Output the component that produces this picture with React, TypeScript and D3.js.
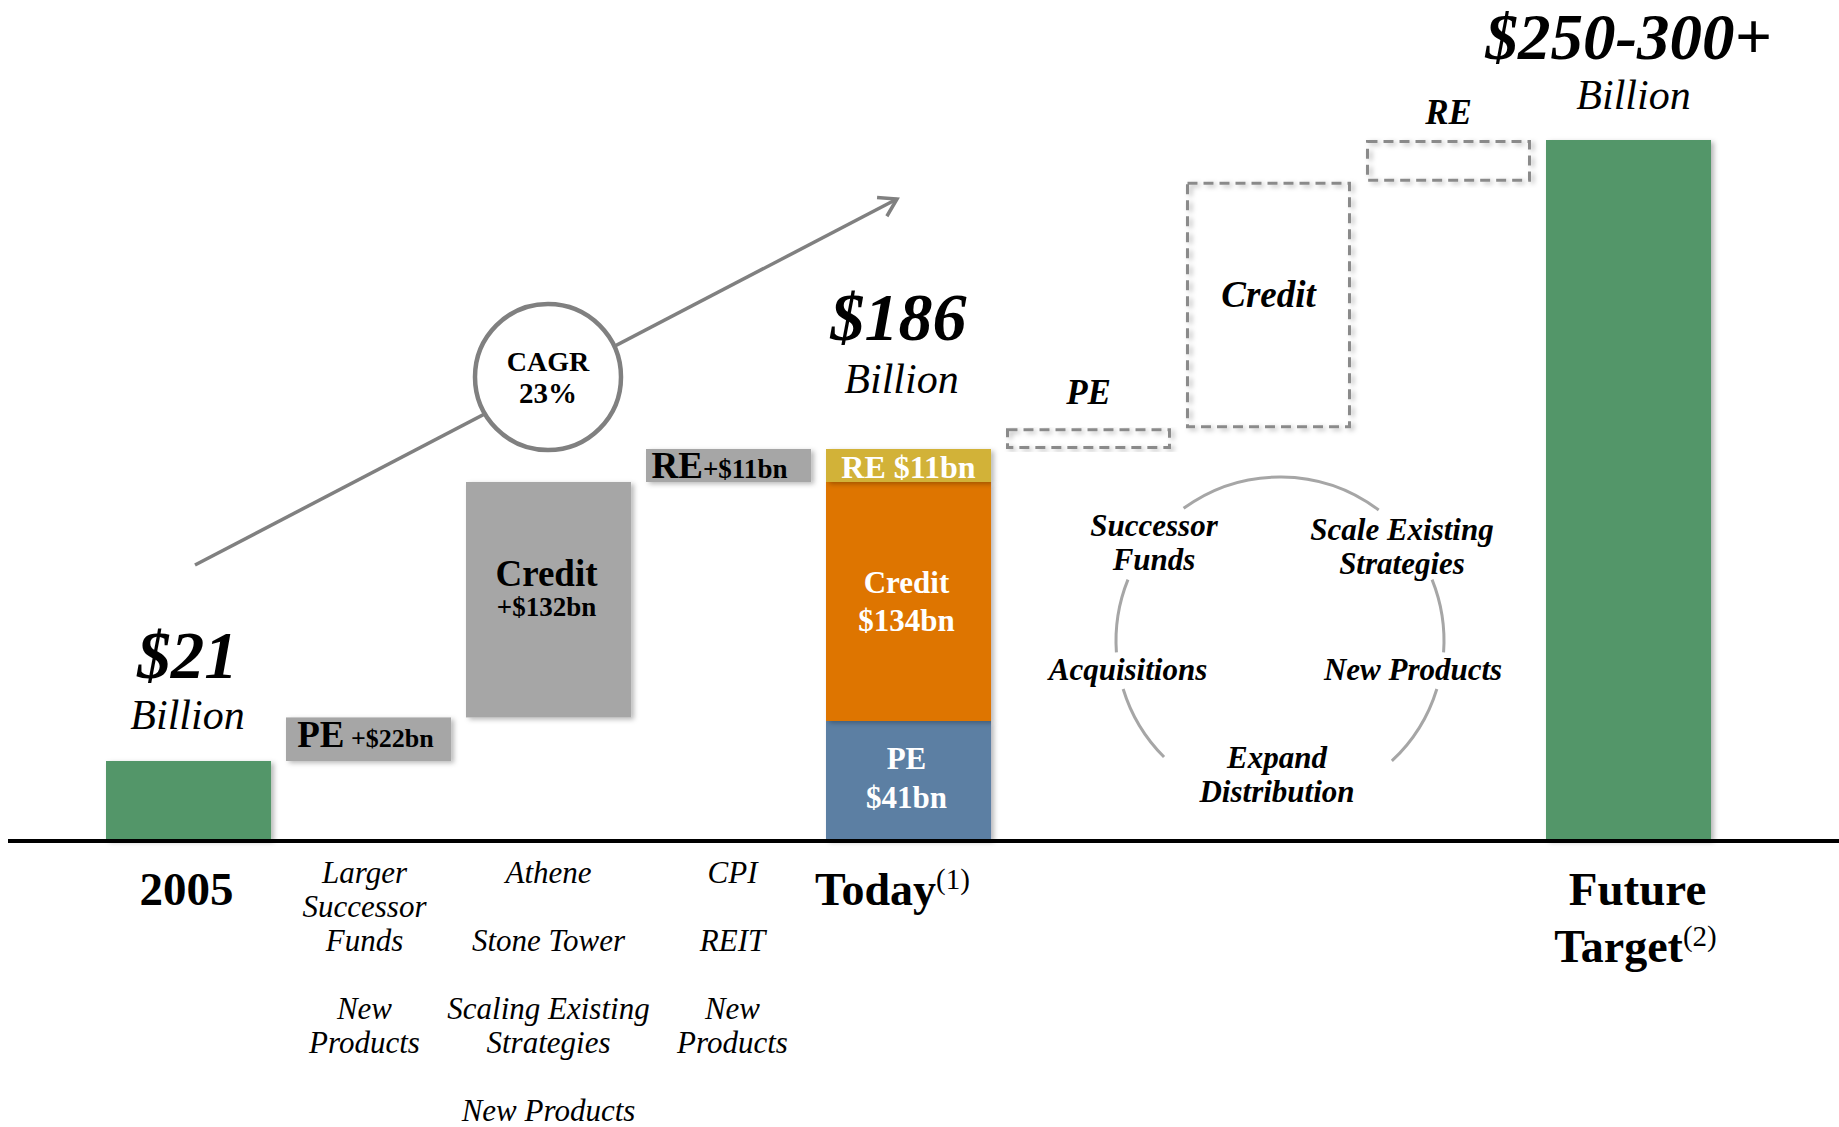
import React from "react";
import * as d3 from "d3";

// ---------- data ----------
const steps = ["2005", "PE", "Credit", "RE", "Today", "PE future", "Credit future", "RE future", "Future Target"];
const startAum = 21; // $bn in 2005
const historicIncrements = [
  { name: "PE", value: 22 },
  { name: "Credit", value: 132 },
  { name: "RE", value: 11 },
];
const todaySegments = [
  { name: "PE", value: 41 },
  { name: "Credit", value: 134 },
  { name: "RE", value: 11 },
];
const todayTotal = 186;
// future increments are not labelled in the source: estimated from box sizes
const futureIncrements = [
  { name: "PE", value: 6 },
  { name: "Credit", value: 71 },
  { name: "RE", value: 12 },
];
const futureTarget = 275; // midpoint of $250-300+
const cagrLabel = ["CAGR", "23%"];
const driverColumns = [
  { step: "PE", lines: ["Larger", "Successor", "Funds", "", "New", "Products"] },
  { step: "Credit", lines: ["Athene", "", "Stone Tower", "", "Scaling Existing", "Strategies", "", "New Products"] },
  { step: "RE", lines: ["CPI", "", "REIT", "", "New", "Products"] },
];
const cycleLabels = [
  { lines: ["Successor", "Funds"] },
  { lines: ["Scale Existing", "Strategies"] },
  { lines: ["Acquisitions"] },
  { lines: ["New Products"] },
  { lines: ["Expand", "Distribution"] },
];

// ---------- styles / layout ----------
const W = 1839;
const H = 1127;
const FONT = "'Liberation Serif', 'Times New Roman', Times, serif";
const GREEN = "#529669";
const GRAY = "#A6A6A6";
const segColors: Record<string, string> = { PE: "#5B7FA3", Credit: "#DE7400", RE: "#D2B237" };
// the source chart is not drawn to scale: a piecewise-linear scale reproduces its segment heights
const yRangeBreaks = [840, 761, 721, 482, 449, 140];
const cycleLabelPos = [
  { x: 1154, y: 536 },
  { x: 1402, y: 540 },
  { x: 1128, y: 680 },
  { x: 1413, y: 680 },
  { x: 1277, y: 768 },
];
const driverOffsets = [-4, 0, 4];

export default function App() {
  const x = d3.scaleBand<string>().domain(steps).range([106, 1711]).paddingInner(0.0833).paddingOuter(0);
  const bw = x.bandwidth();
  const cx = (s: string) => (x(s) as number) + bw / 2;

  const yDomain = [
    0,
    startAum,
    todaySegments[0].value,
    todaySegments[0].value + todaySegments[1].value,
    todayTotal,
    futureTarget,
  ];
  const y = d3.scaleLinear().domain(yDomain).range(yRangeBreaks);

  // historic waterfall
  let acc = startAum;
  const histBoxes = historicIncrements.map((d) => {
    const b = { ...d, y0: acc, y1: acc + d.value };
    acc += d.value;
    return b;
  });
  // today stack
  let sacc = 0;
  const stack = todaySegments.map((d) => {
    const b = { ...d, y0: sacc, y1: sacc + d.value };
    sacc += d.value;
    return b;
  });
  // future waterfall
  let facc = todayTotal;
  const futBoxes = futureIncrements.map((d) => {
    const b = { ...d, y0: facc, y1: facc + d.value };
    facc += d.value;
    return b;
  });

  // cycle arcs
  const ccx = 1280, ccy = 641, cr = 164;
  const arcSegs = [[-36, 37], [68, 94], [107, 137], [-135, -107], [-94, -68]];
  const arcPaths = arcSegs.map(([a0, a1]) => {
    const p = d3.path();
    p.arc(ccx, ccy, cr, ((a0 - 90) * Math.PI) / 180, ((a1 - 90) * Math.PI) / 180);
    return p.toString();
  });

  // growth arrow
  const ax0 = 195, ay0 = 565, ax1 = 897, ay1 = 199;
  const ang = Math.atan2(ay1 - ay0, ax1 - ax0);
  const barb = 20;
  const spread = (32 * Math.PI) / 180;
  const headPath = `M${ax1 - barb * Math.cos(ang - spread)},${ay1 - barb * Math.sin(ang - spread)} L${ax1},${ay1} L${ax1 - barb * Math.cos(ang + spread)},${ay1 - barb * Math.sin(ang + spread)}`;
  const circX = 548, circY = 377;

  return (
    <svg
      width={W}
      height={H}
      viewBox={`0 0 ${W} ${H}`}
      style={{ position: "absolute", left: 0, top: 0, display: "block", background: "#fff" }}
      fontFamily={FONT}
    >
      <defs>
        <filter id="sh" x="-10%" y="-10%" width="130%" height="130%">
          <feDropShadow dx="3" dy="2" stdDeviation="2.5" floodColor="#000" floodOpacity="0.28" />
        </filter>
      </defs>

      {/* growth arrow and CAGR bubble */}
      <line x1={ax0} y1={ay0} x2={ax1} y2={ay1} stroke="#808080" strokeWidth={3.5} />
      <path d={headPath} fill="none" stroke="#808080" strokeWidth={3.5} strokeLinejoin="miter" />
      <circle cx={circX} cy={circY} r={73} fill="#fff" stroke="#808080" strokeWidth={4.5} />
      <text x={circX} y={371} textAnchor="middle" fontWeight="bold" fontSize={28}>{cagrLabel[0]}</text>
      <text x={circX} y={403} textAnchor="middle" fontWeight="bold" fontSize={29}>{cagrLabel[1]}</text>

      {/* 2005 bar */}
      <rect x={x("2005")} y={y(startAum)} width={bw} height={y(0) - y(startAum)} fill={GREEN} filter="url(#sh)" />
      <text x={cx("2005") - 1} y={678} textAnchor="middle" fontWeight="bold" fontStyle="italic" fontSize={67}>${startAum}</text>
      <text x={cx("2005") - 1} y={729} textAnchor="middle" fontStyle="italic" fontSize={42}>Billion</text>

      {/* historic increments */}
      {histBoxes.map((b) => (
        <rect key={b.name} x={x(b.name)} y={y(b.y1)} width={bw} height={y(b.y0) - y(b.y1)} fill={GRAY} filter="url(#sh)" />
      ))}
      <text x={cx("PE") - 3} y={747} textAnchor="middle" fontWeight="bold">
        <tspan fontSize={37}>PE</tspan>
        <tspan fontSize={26}> +${historicIncrements[0].value}bn</tspan>
      </text>
      <text x={cx("Credit") - 2} y={586} textAnchor="middle" fontWeight="bold" fontSize={37}>Credit</text>
      <text x={cx("Credit") - 2} y={616} textAnchor="middle" fontWeight="bold" fontSize={27}>+${historicIncrements[1].value}bn</text>
      <text x={cx("RE") - 9} y={478} textAnchor="middle" fontWeight="bold">
        <tspan fontSize={37}>RE</tspan>
        <tspan fontSize={27}>+${historicIncrements[2].value}bn</tspan>
      </text>

      {/* today stack */}
      {stack.map((b) => (
        <rect key={b.name} x={x("Today")} y={y(b.y1)} width={bw} height={y(b.y0) - y(b.y1)} fill={segColors[b.name]} filter="url(#sh)" />
      ))}
      <text x={cx("Today")} y={(y(stack[2].y0) + y(stack[2].y1)) / 2 + 12} textAnchor="middle" fontWeight="bold" fontSize={32} fill="#fff">
        RE ${todaySegments[2].value}bn
      </text>
      <text x={cx("Today") - 2} y={(y(stack[1].y0) + y(stack[1].y1)) / 2 - 9} textAnchor="middle" fontWeight="bold" fontSize={31} fill="#fff">Credit</text>
      <text x={cx("Today") - 2} y={(y(stack[1].y0) + y(stack[1].y1)) / 2 + 29} textAnchor="middle" fontWeight="bold" fontSize={31} fill="#fff">${todaySegments[1].value}bn</text>
      <text x={cx("Today") - 2} y={(y(stack[0].y0) + y(stack[0].y1)) / 2 - 12} textAnchor="middle" fontWeight="bold" fontSize={31} fill="#fff">PE</text>
      <text x={cx("Today") - 2} y={(y(stack[0].y0) + y(stack[0].y1)) / 2 + 27} textAnchor="middle" fontWeight="bold" fontSize={31} fill="#fff">${todaySegments[0].value}bn</text>
      <text x={cx("Today") - 10} y={340} textAnchor="middle" fontWeight="bold" fontStyle="italic" fontSize={68}>${todayTotal}</text>
      <text x={cx("Today") - 7} y={393} textAnchor="middle" fontStyle="italic" fontSize={42}>Billion</text>

      {/* future dashed increments */}
      {futBoxes.map((b) => (
        <rect
          key={b.name}
          x={(x(b.name + " future") as number) + 1.5}
          y={y(b.y1) + 1.5}
          width={bw - 3}
          height={y(b.y0) - y(b.y1) - 3}
          fill="none"
          stroke="#8A8A8A"
          strokeWidth={3}
          strokeDasharray="10 6"
          filter="url(#sh)"
        />
      ))}
      <text x={cx("PE future")} y={y(futBoxes[0].y1) - 24} textAnchor="middle" fontWeight="bold" fontStyle="italic" fontSize={35}>PE</text>
      <text x={cx("Credit future")} y={307} textAnchor="middle" fontWeight="bold" fontStyle="italic" fontSize={37}>Credit</text>
      <text x={cx("RE future")} y={y(futBoxes[2].y1) - 16} textAnchor="middle" fontWeight="bold" fontStyle="italic" fontSize={35}>RE</text>

      {/* future target bar */}
      <rect x={x("Future Target")} y={y(futureTarget)} width={bw} height={y(0) - y(futureTarget)} fill={GREEN} filter="url(#sh)" />
      <text x={cx("Future Target")} y={59} textAnchor="middle" fontWeight="bold" fontStyle="italic" fontSize={65}>$250-300+</text>
      <text x={cx("Future Target") + 5} y={109} textAnchor="middle" fontStyle="italic" fontSize={42}>Billion</text>

      {/* growth cycle */}
      {arcPaths.map((d, i) => (
        <path key={i} d={d} fill="none" stroke="#A6A6A6" strokeWidth={3} />
      ))}
      {cycleLabels.map((c, i) => (
        <text key={i} x={cycleLabelPos[i].x} y={cycleLabelPos[i].y} textAnchor="middle" fontWeight="bold" fontStyle="italic" fontSize={31}>
          {c.lines.map((l, j) => (
            <tspan key={j} x={cycleLabelPos[i].x} dy={j === 0 ? 0 : 34}>{l}</tspan>
          ))}
        </text>
      ))}

      {/* baseline */}
      <line x1={8} x2={W} y1={841} y2={841} stroke="#000" strokeWidth={4} />

      {/* category labels */}
      <text x={cx("2005") - 2} y={905} textAnchor="middle" fontWeight="bold" fontSize={47}>2005</text>
      <text x={cx("Today") - 16} y={905} textAnchor="middle" fontWeight="bold" fontSize={46}>
        Today<tspan fontWeight="normal" fontSize={29} dy={-16}>(1)</tspan>
      </text>
      <text x={cx("Future Target") + 9} y={905} textAnchor="middle" fontWeight="bold" fontSize={47}>Future</text>
      <text x={cx("Future Target") + 7} y={962} textAnchor="middle" fontWeight="bold" fontSize={46}>
        Target<tspan fontWeight="normal" fontSize={29} dy={-16}>(2)</tspan>
      </text>

      {/* driver columns */}
      {driverColumns.map((col, i) => (
        <text key={col.step} textAnchor="middle" fontStyle="italic" fontSize={31}>
          {col.lines.map((l, j) =>
            l ? (
              <tspan key={j} x={cx(col.step) + driverOffsets[i]} y={883 + j * 34}>{l}</tspan>
            ) : null
          )}
        </text>
      ))}
    </svg>
  );
}
